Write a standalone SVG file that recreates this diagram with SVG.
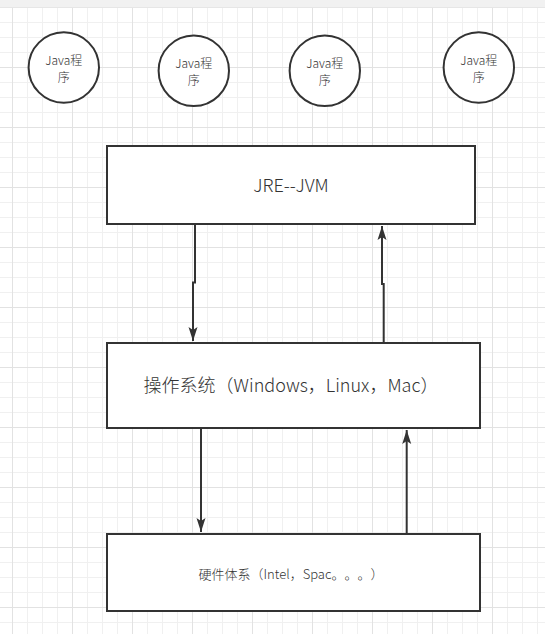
<svg xmlns="http://www.w3.org/2000/svg" width="545" height="634" viewBox="0 0 545 634">
<style>
.shape{fill:#ffffff;stroke:#333333;stroke-width:2}
.edge{fill:none;stroke:#333333;stroke-width:2}
text{font-family:"Noto Sans CJK SC","Noto Sans",sans-serif;fill:#333333;text-anchor:middle;text-spacing-trim:space-all;font-weight:300}
.sm{font-size:12px}
.lg{font-size:18px}
.md{font-size:13px}
</style>
<defs>
<pattern id="minor" x="12" y="7" width="15" height="15" patternUnits="userSpaceOnUse">
<path d="M0,0.5H15M0.5,0V15" stroke="#f0f0f0" stroke-width="1" fill="none"/>
</pattern>
<pattern id="major" x="12" y="7" width="60" height="60" patternUnits="userSpaceOnUse">
<path d="M0,0.5H60M0.5,0V60" stroke="#e2e2e2" stroke-width="1" fill="none"/>
</pattern>
<marker id="ah" viewBox="-14 -5 14 10" refX="0" refY="0" markerWidth="14" markerHeight="10" markerUnits="userSpaceOnUse" orient="auto">
<path d="M0,0 L-14,-4.5 L-11,0 L-14,4.5 Z" fill="#333333"/>
</marker>
</defs>
<rect x="0" y="0" width="545" height="634" fill="#ffffff"/>
<rect x="0" y="7" width="545" height="627" fill="url(#minor)"/>
<rect x="0" y="7" width="545" height="627" fill="url(#major)"/>
<rect x="0" y="0" width="545" height="7" fill="#f1f1f1"/>
<line x1="0" y1="7.5" x2="545" y2="7.5" stroke="#e6e6e6" stroke-width="1"/>

<g id="connectors">
<path class="edge" d="M195,224V282.5H193V341" marker-end="url(#ah)"/>
<path class="edge" d="M383.7,343V284H382V226" marker-end="url(#ah)"/>
<path class="edge" d="M201,428V532" marker-end="url(#ah)"/>
<path class="edge" d="M406.7,534V430" marker-end="url(#ah)"/>
</g>

<g id="java1">
<circle class="shape" cx="63.8" cy="67.5" r="35.2"/>
<text class="sm" x="63.8" y="65">Java程</text>
<text class="sm" x="63.8" y="81.5">序</text>
</g>
<g id="java2">
<circle class="shape" cx="193.8" cy="70.8" r="35.2"/>
<text class="sm" x="193.8" y="68.3">Java程</text>
<text class="sm" x="193.8" y="84.8">序</text>
</g>
<g id="java3">
<circle class="shape" cx="324.8" cy="70.8" r="35.2"/>
<text class="sm" x="324.8" y="68.3">Java程</text>
<text class="sm" x="324.8" y="84.8">序</text>
</g>
<g id="java4">
<circle class="shape" cx="478.8" cy="67.5" r="35.2"/>
<text class="sm" x="478.8" y="65">Java程</text>
<text class="sm" x="478.8" y="81.5">序</text>
</g>

<g id="jre">
<rect class="shape" x="107" y="146" width="368" height="78"/>
<text class="lg" x="291" y="192">JRE--JVM</text>
</g>
<g id="os">
<rect class="shape" x="107" y="343" width="373" height="85"/>
<text class="lg" x="291" y="392">操作系统（Windows，Linux，Mac）</text>
</g>
<g id="hw">
<rect class="shape" x="107" y="534" width="373" height="77"/>
<text class="md" x="291" y="579">硬件体系（Intel，Spac。。。）</text>
</g>
</svg>
